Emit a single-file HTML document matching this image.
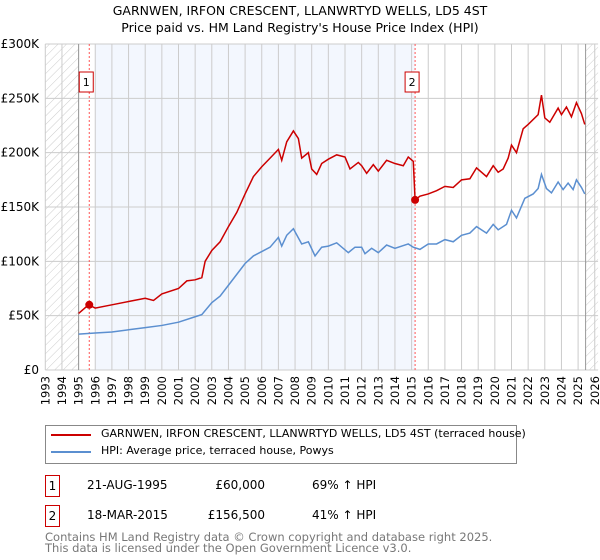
<!DOCTYPE html>
<html><head><meta charset="utf-8"><style>
body{margin:0;width:600px;height:560px;background:#fff;font-family:"DejaVu Sans","Liberation Sans",sans-serif;color:#000;overflow:hidden;position:relative}
.t{position:absolute;white-space:nowrap}
</style></head><body>
<div class="t" style="left:0;width:600px;text-align:center;top:2px;font-size:12.5px;line-height:17px">GARNWEN, IRFON CRESCENT, LLANWRTYD WELLS, LD5 4ST<br>Price paid vs. HM Land Registry's House Price Index (HPI)</div>
<svg width="600" height="420" style="position:absolute;left:0;top:0">
<defs><pattern id="h" width="6" height="6" patternUnits="userSpaceOnUse" patternTransform="rotate(45)"><line x1="0" y1="0" x2="0" y2="6" stroke="#ccc" stroke-width="1"/></pattern></defs>
<g id="g"></g>
</svg>
<div style="position:absolute;left:45px;top:425px;width:470px;height:37px;border:1px solid #888;font-size:11px">
<div style="position:absolute;left:5px;top:8px;width:40px;height:2px;background:#cc0000"></div>
<div class="t" style="left:55px;top:1px">GARNWEN, IRFON CRESCENT, LLANWRTYD WELLS, LD5 4ST (terraced house)</div>
<div style="position:absolute;left:5px;top:25px;width:40px;height:2px;background:#5b8fd0"></div>
<div class="t" style="left:55px;top:18px">HPI: Average price, terraced house, Powys</div>
</div>
<div style="font-size:12px">
<div class="t" style="left:45px;top:475px;width:13px;height:20px;border:1px solid #c00;text-align:center;line-height:20px">1</div>
<div class="t" style="left:87px;top:478px">21-AUG-1995</div><div class="t" style="left:185px;width:80px;text-align:right;top:478px">£60,000</div><div class="t" style="left:312px;top:478px">69% ↑ HPI</div>
<div class="t" style="left:45px;top:505px;width:13px;height:20px;border:1px solid #c00;text-align:center;line-height:20px">2</div>
<div class="t" style="left:87px;top:508px">18-MAR-2015</div><div class="t" style="left:185px;width:80px;text-align:right;top:508px">£156,500</div><div class="t" style="left:312px;top:508px">41% ↑ HPI</div>
</div>
<div class="t" style="left:45px;top:532px;font-size:11.5px;color:#777;line-height:11px">Contains HM Land Registry data © Crown copyright and database right 2025.<br>This data is licensed under the Open Government Licence v3.0.</div>
<script>
const yTicks=[0,50,100,150,200,250,300];
const years=[];for(let y=1993;y<=2026;y++)years.push(y);
const redT=[1995,1995.6,1996,1997,1998,1999,1999.5,2000,2001,2001.5,2002,2002.4,2002.6,2003,2003.5,2004,2004.5,2005,2005.5,2006,2006.5,2007,2007.2,2007.5,2007.9,2008.2,2008.4,2008.8,2009,2009.3,2009.6,2010,2010.5,2011,2011.3,2011.8,2012,2012.3,2012.7,2013,2013.5,2014,2014.5,2014.8,2015.1,2015.21,2015.5,2016,2016.5,2017,2017.5,2018,2018.5,2018.9,2019.5,2019.9,2020.2,2020.5,2020.8,2021,2021.3,2021.7,2022,2022.6,2022.8,2023,2023.3,2023.8,2024,2024.3,2024.6,2024.9,2025.2,2025.4];
const redV=[52,60,57,60,63,66,64,70,75,82,83,85,100,110,118,132,145,162,178,187,195,203,193,210,220,213,195,200,185,180,190,194,198,196,185,191,188,181,189,183,193,190,188,196,192,156.5,160,162,165,169,168,175,176,186,178,188,182,185,195,207,200,222,226,235,253,232,228,241,235,242,233,246,236,226];
const hpiT=[1995,1996,1997,1998,1999,2000,2001,2002,2002.4,2003,2003.5,2004,2004.5,2005,2005.5,2006,2006.5,2007,2007.2,2007.5,2007.9,2008.4,2008.8,2009.2,2009.6,2010,2010.5,2011.2,2011.6,2012,2012.2,2012.6,2013,2013.5,2014,2014.8,2015.1,2015.5,2016,2016.5,2017,2017.5,2018,2018.5,2018.9,2019.5,2019.9,2020.2,2020.7,2021,2021.3,2021.8,2022.3,2022.6,2022.8,2023.1,2023.4,2023.8,2024.1,2024.4,2024.7,2024.9,2025.2,2025.4];
const hpiV=[33,34,35,37,39,41,44,49,51,62,68,78,88,98,105,109,113,122,114,124,130,116,118,105,113,114,117,108,113,113,107,112,108,115,112,116,113,111,116,116,120,118,124,126,132,126,134,129,134,147,140,158,162,167,180,167,163,173,166,172,166,175,168,162];
const saleT=[1995.64,2015.21],saleV=[60,156.5];
const X=t=>45.3+(t-1993)*16.65, Y=v=>370-v*326/300;
const g=document.getElementById('g');const NS='http://www.w3.org/2000/svg';
function el(tag,a){const e=document.createElementNS(NS,tag);for(const k in a)e.setAttribute(k,a[k]);g.appendChild(e);return e;}
let e;
e=el('rect',{x:X(1996),y:44,width:X(2015.21)-X(1996),height:326,fill:'#eef3fd',opacity:0.7});


e=el('rect',{x:X(1993),y:44,width:X(1995)-X(1993),height:326,fill:'url(#h)'});


e=el('rect',{x:X(2025.45),y:44,width:X(2026.2)-X(2025.45),height:326,fill:'url(#h)'});


years.forEach(y=>{e=el('line',{x1:X(y),x2:X(y),y1:44,y2:370,stroke:'#ccc'});


const t=el('text',{x:0,y:0,transform:`translate(${X(y)+4},${376}) rotate(-90)`,'text-anchor':'end','font-size':11.5});t.textContent=y;

});
yTicks.forEach(v=>{e=el('line',{x1:X(1993),x2:X(2026.2),y1:Y(v),y2:Y(v),stroke:'#ccc'});


const t=el('text',{x:39,y:Y(v)+4,'text-anchor':'end','font-size':12});t.textContent=v?'£'+v+'K':'£0';

});
e=el('line',{x1:X(1995),x2:X(1995),y1:44,y2:370,stroke:'#999'});


e=el('line',{x1:X(2025.45),x2:X(2025.45),y1:44,y2:370,stroke:'#999'});


saleT.forEach((t,i)=>{e=el('line',{x1:X(t),x2:X(t),y1:44,y2:370,stroke:'#f55','stroke-dasharray':'2,2'});


e=el('rect',{x:X(t)-10,y:72,width:14,height:20,fill:'#fff',stroke:'#c00'});


const tx=el('text',{x:X(t)-3,y:86,'text-anchor':'middle','font-size':11});tx.textContent=i+1;

});
e=el('polyline',{points:hpiT.map((t,i)=>X(t)+','+Y(hpiV[i])).join(' '),fill:'none',stroke:'#5b8fd0','stroke-width':1.5});


e=el('polyline',{points:redT.map((t,i)=>X(t)+','+Y(redV[i])).join(' '),fill:'none',stroke:'#cc0000','stroke-width':1.5});


saleT.forEach((t,i)=>{e=el('circle',{cx:X(t),cy:Y(saleV[i]),r:4,fill:'#cc0000'});

});
</script>
</body></html>
